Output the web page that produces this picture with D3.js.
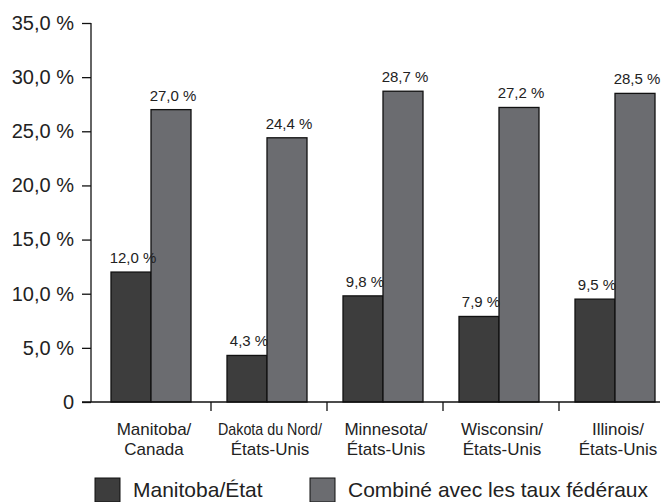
<!DOCTYPE html>
<html>
<head>
<meta charset="utf-8">
<script src="https://cdn.jsdelivr.net/npm/d3@7"></script>
<style>
  html, body { margin: 0; padding: 0; background: #fff; }
  svg { display: block; font-family: "Liberation Sans", Arial, sans-serif; }
</style>
</head>
<body>
<svg id="chart" width="662" height="502"></svg>
<script>
// Taux d'imposition : Manitoba/État seul et combiné avec les taux fédéraux
const categories = [
  ["Manitoba/", "Canada"],
  ["Dakota du Nord/", "États-Unis"],
  ["Minnesota/", "États-Unis"],
  ["Wisconsin/", "États-Unis"],
  ["Illinois/", "États-Unis"]
];
const seriesNames = ["Manitoba/État", "Combiné avec les taux fédéraux"];
const provincialRates = [12.0, 4.3, 9.8, 7.9, 9.5];
const combinedRates = [27.0, 24.4, 28.7, 27.2, 28.5];
const yTicks = [0, 5, 10, 15, 20, 25, 30, 35];
const colors = ["#3d3d3d", "#6b6c70"];

const fmt = v => v === 0 ? "0" : v.toFixed(1).replace(".", ",") + " %";

const svg = d3.select("#chart");
const axisX = 91, baseY = 402, topY = 23;

const y = d3.scaleLinear().domain([0, 35]).range([baseY, topY]);
const x0 = d3.scaleBand().domain(d3.range(categories.length)).range([95, 675]);
const x1 = d3.scaleBand().domain([0, 1]).range([16, 96]);

// y axis
const yAxis = d3.axisLeft(y).tickValues(yTicks).tickFormat(fmt).tickSize(9).tickPadding(8);
const gy = svg.append("g").attr("transform", `translate(${axisX},0)`).call(yAxis);
gy.select(".domain").attr("d", `M0,${topY}V${baseY}`).attr("stroke", "#111").attr("stroke-width", 1.3);
gy.selectAll(".tick line").attr("stroke", "#111").attr("stroke-width", 1.3);
gy.selectAll(".tick text").attr("font-size", 20).attr("fill", "#222")
  .attr("font-family", "Liberation Sans, Arial, sans-serif");

// bars
const groups = svg.append("g").selectAll("g")
  .data(categories.map((c, i) => ({ i, vals: [provincialRates[i], combinedRates[i]] })))
  .join("g")
  .attr("transform", d => `translate(${x0(d.i)},0)`);

groups.selectAll("rect")
  .data(d => d.vals.map((v, k) => ({ v, k })))
  .join("rect")
  .attr("x", d => x1(d.k))
  .attr("width", x1.bandwidth())
  .attr("y", d => y(d.v))
  .attr("height", d => baseY - y(d.v))
  .attr("fill", d => colors[d.k])
  .attr("stroke", "#111")
  .attr("stroke-width", 1.3);

groups.selectAll("text.val")
  .data(d => d.vals.map((v, k) => ({ v, k })))
  .join("text")
  .attr("class", "val")
  .attr("x", d => x1(d.k) + x1.bandwidth() / 2 + 2)
  .attr("y", d => y(d.v) - 9)
  .attr("text-anchor", "middle")
  .attr("font-size", 15)
  .attr("fill", "#222")
  .text(d => fmt(d.v));

// x axis
svg.append("line")
  .attr("x1", 82).attr("x2", 660).attr("y1", baseY).attr("y2", baseY)
  .attr("stroke", "#111").attr("stroke-width", 1.3);
svg.append("g").selectAll("line")
  .data(d3.range(1, categories.length))
  .join("line")
  .attr("x1", i => x0(i)).attr("x2", i => x0(i))
  .attr("y1", baseY).attr("y2", baseY + 9)
  .attr("stroke", "#111").attr("stroke-width", 1.3);

// category labels, two lines each; long lines are squeezed to fit their band
const maxLabelWidth = x0.bandwidth() - 12;
const labels = svg.append("g").selectAll("text")
  .data(categories)
  .join("text")
  .attr("text-anchor", "middle")
  .attr("font-size", 17)
  .attr("fill", "#222");
labels.each(function(lines, i) {
  const t = d3.select(this);
  lines.forEach((ln, j) => {
    const span = t.append("tspan")
      .attr("x", x0(i) + x0.bandwidth() / 2 + 1)
      .attr("y", 435 + j * 20)
      .text(ln);
    if (span.node().getComputedTextLength() > maxLabelWidth) {
      span.attr("textLength", maxLabelWidth).attr("lengthAdjust", "spacingAndGlyphs");
    }
  });
});

// legend
const legendX = [95, 310];
const legend = svg.append("g").selectAll("g")
  .data(seriesNames)
  .join("g")
  .attr("transform", (d, i) => `translate(${legendX[i]},478)`);
legend.append("rect")
  .attr("width", 25).attr("height", 24)
  .attr("fill", (d, i) => colors[i])
  .attr("stroke", "#111").attr("stroke-width", 1);
legend.append("text")
  .attr("x", 38).attr("y", 19)
  .attr("font-size", 21)
  .attr("fill", "#222")
  .text(d => d);
</script>
</body>
</html>
